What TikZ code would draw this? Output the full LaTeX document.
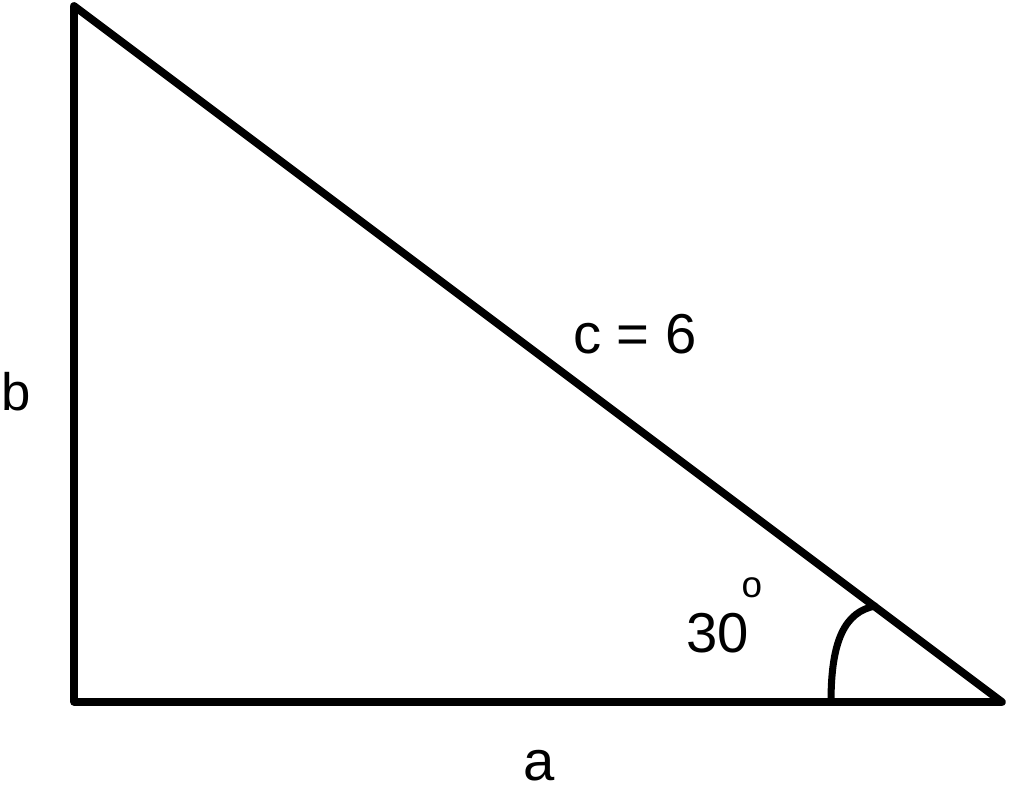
\documentclass[tikz,border=0pt]{standalone}
\usepackage{fontspec}
\setmainfont{Liberation Sans}
\usetikzlibrary{positioning}
\tikzset{
 side/.style={line width=4.4pt, line join=round, line cap=round},
 lbl/.style={inner sep=0pt, font=\fontsize{32}{36}\selectfont},
}
\begin{document}
\begin{tikzpicture}[x=0.02cm, y=-0.02cm]
\useasboundingbox (0,0) rectangle (1011,796);
% corners
 \coordinate (top) at (74,6);
 \coordinate (left) at (74,702);
 \coordinate (right) at (1002,702);
% triangle
 \draw[side] (top) -- (left) -- (right) -- cycle;
% angle mark
 \coordinate (arcl) at (831,702);
 \coordinate (arcr) at (875,606);
 \draw[side, line width=4pt] (arcl) .. controls (831,640) and (845,612) .. (arcr);
% labels
 \node[lbl, anchor=base] (hyp) at (635,353) {c = 6};
 \node[lbl, anchor=base] (sa) at (539,780) {a};
 \node[lbl, anchor=base, font=\fontsize{30}{34}\selectfont] (sb) at (16,410) {b};
 \node[lbl, anchor=base] (ang) at (718,652) {30};
 \node[lbl, font=\fontsize{21}{24}\selectfont] (deg) at (752,588) {o};
\end{tikzpicture}
\end{document}
